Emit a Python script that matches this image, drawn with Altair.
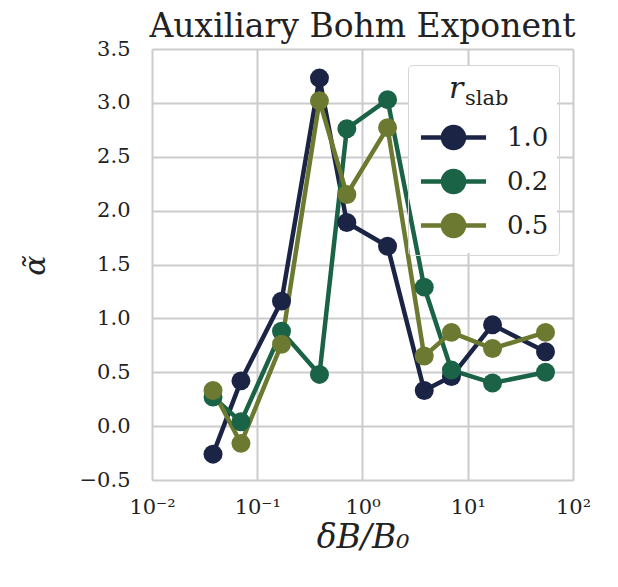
import altair as alt
import pandas as pd

# --- data ---
x_vals = [0.038, 0.07, 0.17, 0.39, 0.71, 1.73, 3.86, 7.0, 17.2, 54.8]
alpha_10 = [-0.26, 0.42, 1.16, 3.23, 1.89, 1.67, 0.33, 0.46, 0.94, 0.69]
alpha_02 = [0.27, 0.04, 0.88, 0.48, 2.76, 3.03, 1.29, 0.52, 0.40, 0.50]
alpha_05 = [0.33, -0.16, 0.76, 3.02, 2.15, 2.77, 0.65, 0.87, 0.72, 0.87]
series = ["1.0", "0.2", "0.5"]
colors = ["#1b2445", "#1b6346", "#6b7a30"]
x_ticks = [0.01, 0.1, 1, 10, 100]
y_ticks = [-0.5, 0.0, 0.5, 1.0, 1.5, 2.0, 2.5, 3.0, 3.5]
title_text = "Auxiliary Bohm Exponent"

rows = []
for name, vals in zip(series, [alpha_10, alpha_02, alpha_05]):
    for i, (xv, yv) in enumerate(zip(x_vals, vals)):
        rows.append({"x": xv, "a": yv, "r": name, "i": i})
df = pd.DataFrame(rows)

FONT = "DejaVu Serif"
W, H = 421, 431

sym_path = ("M-2.17,0L2.17,0M-0.7,0A0.7,0.7,0,1,1,0.7,0"
            "A0.7,0.7,0,1,1,-0.7,0Z")

legend = alt.Legend(
    title=" ", titleFontSize=30, titlePadding=15,
    orient="none", legendX=256, legendY=16,
    padding=10, strokeColor="#d6d6d6", cornerRadius=4,
    symbolType=sym_path, symbolSize=900, symbolStrokeWidth=4.5,
    symbolOffset=18,
    labelFont=FONT, labelFontSize=26, labelColor="#222222", labelOffset=36,
    rowPadding=5,
)

xenc = alt.X("x:Q", scale=alt.Scale(type="log", domain=[0.01, 100], nice=False),
             axis=alt.Axis(values=x_ticks,
                           labelExpr="['10⁻²','10⁻¹','10⁰','10¹','10²'][round(log(datum.value)/LN10)+2]",
                           title="δB/B₀", titleFont=FONT, titleFontSize=33,
                           titleFontStyle="italic", titleFontWeight="normal",
                           titleBaseline="alphabetic", titleY=67,
                           labelFont=FONT, labelFontSize=21, labelPadding=16,
                           labelFlush=False, labelOverlap=False,
                           ticks=False, domain=False,
                           grid=True, gridColor="#cccccc", gridWidth=2,
                           labelColor="#222222", titleColor="#222222"))
yenc = alt.Y("a:Q", scale=alt.Scale(domain=[-0.5, 3.5], nice=False, zero=False),
             axis=alt.Axis(values=y_ticks, format=".1f",
                           title="α̃", titleFont=FONT, titleFontSize=30,
                           titleFontStyle="italic", titleFontWeight="normal",
                           titleX=-117, titleY=216, titleAngle=270,
                           titleBaseline="middle", titleAlign="center",
                           labelFont=FONT, labelFontSize=21, labelPadding=22,
                           labelFlush=False, labelOverlap=False,
                           ticks=False, domain=False,
                           grid=True, gridColor="#cccccc", gridWidth=2,
                           labelColor="#222222", titleColor="#222222"))

scale = alt.Scale(domain=series, range=colors)

base = alt.Chart(df)
lines = base.mark_line(strokeWidth=4.5).encode(
    x=xenc, y=yenc,
    stroke=alt.Stroke("r:N", scale=scale, legend=legend),
    detail="r:N", order="i:Q",
)
points = base.mark_circle(size=360, opacity=1).encode(
    x=xenc, y=yenc,
    fill=alt.Fill("r:N", scale=scale, legend=legend),
)

bg = alt.Chart(pd.DataFrame({"k": [0]})).mark_rect(color="white").encode(
    x=alt.value(256), x2=alt.value(405), y=alt.value(16), y2=alt.value(204))
t_r = alt.Chart(pd.DataFrame({"t": ["r"]})).mark_text(
    font=FONT, fontSize=30, fontStyle="italic", align="left",
    baseline="alphabetic", color="#222222").encode(
    x=alt.value(297), y=alt.value(49), text="t:N")
t_s = alt.Chart(pd.DataFrame({"t": ["slab"]})).mark_text(
    font=FONT, fontSize=21, align="left",
    baseline="alphabetic", color="#222222").encode(
    x=alt.value(313), y=alt.value(56), text="t:N")
t_title = alt.Chart(pd.DataFrame({"t": [title_text]})).mark_text(
    font=FONT, fontSize=33, align="center",
    baseline="alphabetic", color="#222222").encode(
    x=alt.value(W / 2), y=alt.value(-12), text="t:N")

chart = alt.layer(bg, lines, points, t_r, t_s, t_title).properties(
    width=W, height=H,
    autosize=alt.AutoSizeParams(type="none"),
    padding={"left": 152, "top": 49, "right": 45, "bottom": 107},
).configure_view(stroke="#cccccc", strokeWidth=2).configure(background="white")

chart.save("out.html", embed_options={"renderer": "svg", "actions": False})
